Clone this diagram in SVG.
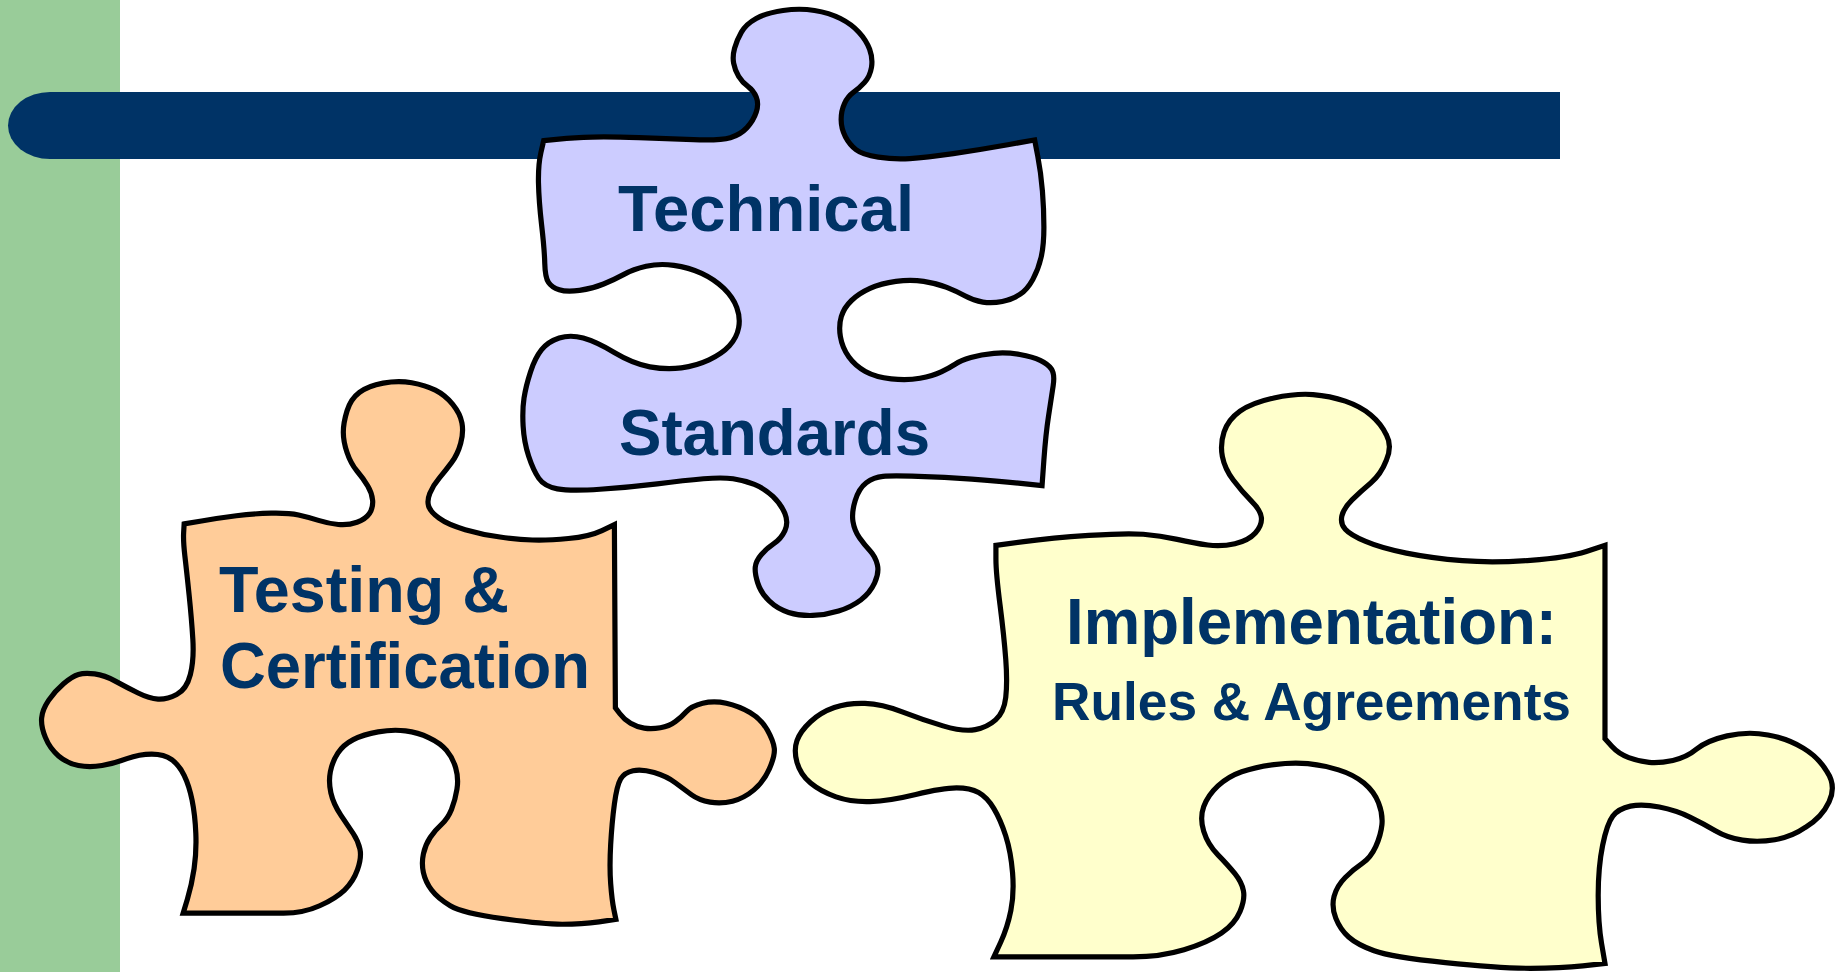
<svg xmlns="http://www.w3.org/2000/svg" width="1845" height="972" viewBox="0 0 1845 972">
<style>
.piece{stroke:#000;stroke-width:5.2;stroke-linejoin:miter;vector-effect:non-scaling-stroke}
.t{font-family:"Liberation Sans",Arial,sans-serif;font-weight:700;fill:#003366}
</style>
<rect width="1845" height="972" fill="#fff"/>
<rect id="side-band" x="0" y="0" width="120" height="972" fill="#99CC99"/>
<path id="title-bar" d="M1560 92H50A42 33.5 0 0 0 50 159H1560Z" fill="#003366"/>
<g id="technical-standards">
<path class="piece" fill="#CCCCFF" transform="translate(500 0) scale(.37 .402)" d="M118,350 L159,346 Q200,342 250,341 Q300,340 375,342.5 Q450,345 522.5,347.5 Q595,350 622.5,342.5 Q650,335 667.5,317.5 Q685,300 692.5,279 Q700,258 692.5,241.5 Q685,225 670,215 Q655,205 645,190 Q635,175 631.5,157.5 Q628,140 634,120 Q640,100 652.5,80 Q665,60 692.5,46 Q720,32 765,26 Q810,20 850,26 Q890,32 920,46 Q950,60 970,80 Q990,100 999,122.5 Q1008,145 1004,167.5 Q1000,190 985,205 Q970,220 955,230 Q940,240 931,257.5 Q922,275 922,297.5 Q922,320 933.5,340 Q945,360 962.5,372.5 Q980,385 1022.5,391 Q1065,397 1107.5,394.5 Q1150,392 1225,382 Q1300,372 1372.5,360 L1445,348 L1453.5,389 Q1462,430 1466,475 Q1470,520 1470,565 Q1470,610 1462.5,640 Q1455,670 1440,695 Q1425,720 1405,732.5 Q1385,745 1357.5,750 Q1330,755 1305,751.5 Q1280,748 1257.5,736.5 Q1235,725 1207.5,715 Q1180,705 1145,700 Q1110,695 1070,700 Q1030,705 1000,717.5 Q970,730 950,747.5 Q930,765 922.5,787.5 Q915,810 920,837.5 Q925,865 942.5,887.5 Q960,910 987.5,924 Q1015,938 1057.5,942.5 Q1100,947 1135,941 Q1170,935 1192.5,925 Q1215,915 1230,906 Q1245,897 1272.5,889.5 Q1300,882 1335,879 Q1370,876 1405,882 Q1440,888 1460,896.5 Q1480,905 1490,917.5 Q1500,930 1495,960 Q1490,990 1482.5,1035 Q1475,1080 1470,1144 L1465,1208 L1407.5,1202.5 Q1350,1197 1275,1192 Q1200,1187 1130,1185 Q1060,1183 1035,1185 Q1010,1187 990,1201 Q970,1215 960,1245 Q950,1275 954,1297.5 Q958,1320 971.5,1337.5 Q985,1355 1000,1370 Q1015,1385 1020,1405 Q1025,1425 1012.5,1450 Q1000,1475 975,1492.5 Q950,1510 915,1520 Q880,1530 845,1531 Q810,1532 780,1523.5 Q750,1515 727.5,1495 Q705,1475 696.5,1450 Q688,1425 690,1410 Q692,1395 706,1380 Q720,1365 740,1352.5 Q760,1340 770,1320 Q780,1300 770,1277.5 Q760,1255 737.5,1235 Q715,1215 687.5,1205 Q660,1195 630,1191 Q600,1187 550,1191 Q500,1195 425,1203.5 Q350,1212 270,1217 Q190,1222 155,1216 Q120,1210 105,1190 Q90,1170 77.5,1135 Q65,1100 62.5,1060 Q60,1020 65,990 Q70,960 82.5,925 Q95,890 112.5,870 Q130,850 160,841 Q190,832 225,841 Q260,850 310,877.5 Q360,905 405,912.5 Q450,920 490,915 Q530,910 565,895 Q600,880 620,860 Q640,840 645,815 Q650,790 640,765 Q630,740 605,717.5 Q580,695 545,680 Q510,665 470,660 Q430,655 395,662.5 Q360,670 335,682.5 Q310,695 280,706.5 Q250,718 215,722.5 Q180,727 160,721 Q140,715 131,702.5 Q122,690 121,655 Q120,620 112.5,560 Q105,500 104,455 Q103,410 110.5,380 L118,350Z"/>
<text class="t" x="618" y="231" font-size="64" textLength="296" lengthAdjust="spacingAndGlyphs">Technical</text>
<text class="t" x="619" y="455" font-size="64" textLength="311" lengthAdjust="spacingAndGlyphs">Standards</text>
</g>
<g id="testing-certification">
<path class="piece" fill="#FFCC99" transform="translate(20 360) scale(.4974 .37)" d="M330,443 L365,435 Q400,427 435,421 Q470,415 505,414 Q540,413 560,419 Q580,425 600,433.5 Q620,442 640,444.5 Q660,447 677.5,438.5 Q695,430 702.5,415 Q710,400 709,380 Q708,360 699,340 Q690,320 677.5,300 Q665,280 657.5,250 Q650,220 650,195 Q650,170 657.5,137.5 Q665,105 682.5,87.5 Q700,70 730,62.5 Q760,55 787.5,61.5 Q815,68 835,81.5 Q855,95 870,120 Q885,145 888.5,170 Q892,195 886,225 Q880,255 867.5,277.5 Q855,300 842.5,320 Q830,340 824,360 Q818,380 821.5,395 Q825,410 842.5,427.5 Q860,445 895,458.5 Q930,472 965,478.5 Q1000,485 1030,486.5 Q1060,488 1102.5,482.5 Q1145,477 1170,461 L1195,445 L1197,940 L1206,956 Q1215,972 1227.5,982 Q1240,992 1255,995 Q1270,998 1287.5,994 Q1305,990 1317.5,977.5 Q1330,965 1340,950 Q1350,935 1372.5,927.5 Q1395,920 1420,927.5 Q1445,935 1467.5,952.5 Q1490,970 1502.5,1000 Q1515,1030 1516.5,1050 Q1518,1070 1506.5,1105 Q1495,1140 1475,1162.5 Q1455,1185 1432.5,1192.5 Q1410,1200 1387.5,1195 Q1365,1190 1350,1175 Q1335,1160 1317.5,1142.5 Q1300,1125 1275,1115 Q1250,1105 1232.5,1110 Q1215,1115 1207.5,1132.5 Q1200,1150 1195,1200 Q1190,1250 1187.5,1310 Q1185,1370 1187.5,1415 Q1190,1460 1194,1486 L1198,1512 L1164,1518.5 Q1130,1525 1090,1525 Q1050,1525 970,1510 Q890,1495 865,1475 Q840,1455 827.5,1432.5 Q815,1410 811,1385 Q807,1360 811,1335 Q815,1310 825,1290 Q835,1270 847.5,1255 Q860,1240 867.5,1215 Q875,1190 878.5,1160 Q882,1130 876,1102.5 Q870,1075 857.5,1055 Q845,1035 822.5,1021 Q800,1007 775,1002.5 Q750,998 720,1005 Q690,1012 670,1026 Q650,1040 639,1062.5 Q628,1085 624,1112.5 Q620,1140 625,1170 Q630,1200 645,1230 Q660,1260 670,1280 Q680,1300 683.5,1322.5 Q687,1345 678.5,1377.5 Q670,1410 652.5,1432.5 Q635,1455 602.5,1475 Q570,1495 530,1495 L328,1495 L336.5,1457.5 Q345,1420 350,1375 Q355,1330 353.5,1280 Q352,1230 346,1190 Q340,1150 330,1122.5 Q320,1095 305,1080 Q290,1065 265,1065 Q240,1065 215,1077.5 Q190,1090 165,1096 Q140,1102 117.5,1096 Q95,1090 77.5,1070 Q60,1050 51,1020 Q42,990 43.5,967.5 Q45,945 57.5,920 Q70,895 87.5,875 Q105,855 117.5,850 Q130,845 150,848.5 Q170,852 192.5,868.5 Q215,885 237.5,900 Q260,915 277.5,916.5 Q295,918 315,904 Q335,890 342.5,850 Q350,810 347.5,755 Q345,700 340,635 Q335,570 331.5,530 Q328,490 329,466.5 L330,443Z"/>
<text class="t" x="219" y="612" font-size="64" textLength="290" lengthAdjust="spacingAndGlyphs">Testing &amp;</text>
<text class="t" x="220" y="688" font-size="64" textLength="370" lengthAdjust="spacingAndGlyphs">Certification</text>
</g>
<g id="implementation">
<path class="piece" fill="#FFFFCC" transform="translate(780 380) scale(.679 .3776)" d="M318,438 L359,428 Q400,418 455,411.5 Q510,405 535,408.5 Q560,412 585,422 Q610,432 630,437 Q650,442 670,433.5 Q690,425 700,405 Q710,385 709,365 Q708,345 694,320 Q680,295 667.5,265 Q655,235 651.5,202.5 Q648,170 654,137.5 Q660,105 677.5,82.5 Q695,60 727.5,47.5 Q760,35 785,38.5 Q810,42 832.5,56 Q855,70 870,92.5 Q885,115 893,145 Q902,175 893,212.5 Q885,250 870,272.5 Q855,295 842.5,317.5 Q830,340 827.5,360 Q825,380 832.5,395 Q840,410 862.5,427.5 Q885,445 922.5,458.5 Q960,472 1005,478.5 Q1050,485 1105,477.5 Q1160,470 1187.5,454 L1215,438 L1215,950 L1225,970 Q1235,990 1250,1000 Q1265,1010 1280,1012.5 Q1295,1015 1315,1007.5 Q1335,1000 1350,977.5 Q1365,955 1395,942.5 Q1425,930 1455,940 Q1485,950 1507,975 Q1530,1000 1542,1037.5 Q1556,1075 1545,1117.5 Q1534,1160 1510,1185 Q1490,1210 1465,1217.5 Q1440,1225 1417.5,1218.5 Q1395,1212 1377.5,1193.5 Q1360,1175 1340,1157.5 Q1320,1140 1295,1131 Q1270,1122 1252.5,1128.5 Q1235,1135 1226.5,1155 Q1218,1175 1211.5,1232.5 Q1205,1290 1205,1365 Q1205,1440 1210,1492.5 L1215,1545 L1182.5,1551.5 Q1150,1558 1105,1558 Q1060,1558 980,1543 Q900,1528 875,1511.5 Q850,1495 837.5,1475 Q825,1455 818.5,1425 Q812,1395 816,1367.5 Q820,1340 832.5,1317.5 Q845,1295 857.5,1280 Q870,1265 877.5,1235 Q885,1205 886.5,1177.5 Q888,1150 881.5,1120 Q875,1090 860,1067.5 Q845,1045 822.5,1032.5 Q800,1020 777.5,1016 Q755,1012 727.5,1018.5 Q700,1025 680,1037.5 Q660,1050 645,1075 Q630,1100 624,1130 Q618,1160 624,1195 Q630,1230 645,1257.5 Q660,1285 670,1307.5 Q680,1330 682.5,1352.5 Q685,1375 677.5,1407.5 Q670,1440 650,1465 Q630,1490 595,1509 Q560,1528 520,1528 L315,1528 L325,1489 Q335,1450 340,1405 Q345,1360 342.5,1305 Q340,1250 332.5,1207.5 Q325,1165 315,1135 Q305,1105 292.5,1092.5 Q280,1080 260,1080 Q240,1080 200,1097.5 Q160,1115 132.5,1116.5 Q105,1118 82.5,1104 Q60,1090 45,1067.5 Q30,1045 25,1012.5 Q20,980 25,955 Q30,930 45,905 Q60,880 80,867.5 Q100,855 125,856.5 Q150,858 180,879 Q210,900 240,916 Q270,932 287.5,926 Q305,920 317.5,900 Q330,880 332.5,840 Q335,800 332.5,740 Q330,680 324,595 Q318,510 318,474 L318,438Z"/>
<text class="t" x="1066" y="644" font-size="64" textLength="491" lengthAdjust="spacingAndGlyphs">Implementation:</text>
<text class="t" x="1052" y="720" font-size="53" textLength="519" lengthAdjust="spacingAndGlyphs">Rules &amp; Agreements</text>
</g>
</svg>
